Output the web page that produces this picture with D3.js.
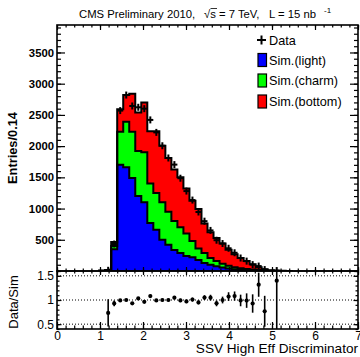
<!DOCTYPE html>
<html>
<head>
<meta charset="utf-8">
<script src="https://cdnjs.cloudflare.com/ajax/libs/d3/7.8.5/d3.min.js"></script>
<style>
  body { margin: 0; background: #fff; }
  svg { display: block; }
  text { font-family: "Liberation Sans", Arial, Helvetica, sans-serif; fill: #000; }
</style>
</head>
<body>
<svg id="chart" width="360" height="357"></svg>
<script>
// bins (low edges), width 0.14
var binLow = [0.98, 1.12, 1.26, 1.40, 1.54, 1.68, 1.82, 1.96, 2.10, 2.24, 2.38, 2.52, 2.66, 2.80, 2.94,
              3.08, 3.22, 3.36, 3.50, 3.64, 3.78, 3.92, 4.06, 4.20, 4.34, 4.48, 4.62, 4.76, 4.90, 5.04, 5.18, 5.32];
var binWidth = 0.14;

// simulation, stacked: light (blue), charm (green), bottom (red)
var simLight  = [3, 12, 350, 1700, 1660, 1490, 1200, 1100, 770, 660, 500, 420, 335, 290, 240,
                 220, 175, 130, 100, 75, 55, 40, 30, 22, 16, 10, 7, 4, 2, 1, 1, 0];
var simCharm  = [1, 2, 50, 530, 730, 740, 720, 800, 630, 590, 600, 530, 465, 410, 360,
                 260, 185, 160, 110, 85, 60, 45, 30, 23, 18, 14, 10, 6, 3, 1, 0, 1];
var simBottom = [1, 1, 65, 360, 428, 610, 620, 800, 840, 990, 906, 860, 825, 800, 720,
                 645, 635, 470, 410, 370, 325, 255, 210, 165, 126, 86, 43, 20, 9, 3, 3, 1];

var dataCounts = [0, 11, 432, 2569, 2818, 2643, 2622, 2600, 2420, 2220, 2006, 1810, 1704, 1486, 1280,
                  1136, 945, 798, 650, 493, 440, 364, 292, 208, 158, 102, 79, 23, 0, 7, 0, 0];
var ratioErr   = [0, 0.28, 0.06, 0.025, 0.025, 0.025, 0.025, 0.025, 0.03, 0.03, 0.03, 0.03, 0.035, 0.035, 0.035,
                  0.04, 0.04, 0.05, 0.06, 0.06, 0.07, 0.09, 0.095, 0.12, 0.15, 0.19, 0.25, 0.32, 0, 1.0, 0, 0];

var xTicks = [0, 1, 2, 3, 4, 5, 6, 7];
var yTicks = [500, 1000, 1500, 2000, 2500, 3000, 3500];
var rTicks = [0.5, 1, 1.5];

var svg = d3.select("#chart");

// pads
var padL = 57, padR = 358, padTop = 25, padMid = 271, padBot = 329;

var x = d3.scaleLinear().domain([0, 7]).range([padL, padR]);
var y = d3.scaleLinear().domain([0, 3940]).range([padMid, padTop]);
var yr = d3.scaleLinear().domain([0.4, 1.6]).range([padBot, padMid]);

// clip paths
var defs = svg.append("defs");
defs.append("clipPath").attr("id", "clipMain")
  .append("rect").attr("x", padL).attr("y", padTop).attr("width", padR - padL).attr("height", padMid - padTop);
defs.append("clipPath").attr("id", "clipRatio")
  .append("rect").attr("x", padL).attr("y", padMid).attr("width", padR - padL).attr("height", padBot - padMid);

// table for the stack
var rows = binLow.map(function(lo, i) {
  return { x: lo, light: simLight[i], charm: simCharm[i], bottom: simBottom[i] };
});
var lastHi = binLow[binLow.length - 1] + binWidth;
rows.push(Object.assign({}, rows[rows.length - 1], { x: lastHi }));

var keys = ["light", "charm", "bottom"];
var colors = { light: "#0000ff", charm: "#00ff00", bottom: "#ff0000" };
var series = d3.stack().keys(keys)(rows);

var gMain = svg.append("g").attr("clip-path", "url(#clipMain)");

var area = d3.area()
  .curve(d3.curveStepAfter)
  .x(function(d) { return x(d.data.x); })
  .y0(function(d) { return y(d[0]); })
  .y1(function(d) { return y(d[1]); });

gMain.selectAll("path.layer")
  .data(series)
  .enter().append("path")
  .attr("class", "layer")
  .attr("d", area)
  .attr("fill", function(s) { return colors[s.key]; });

// black outline for each cumulative top
var line = d3.line()
  .curve(d3.curveStepAfter)
  .x(function(p) { return x(p[0]); })
  .y(function(p) { return y(p[1]); });

series.forEach(function(s) {
  var pts = [[binLow[0], 0]];
  s.forEach(function(d) { pts.push([d.data.x, d[1]]); });
  pts.push([lastHi, 0]);
  gMain.append("path")
    .attr("d", line(pts))
    .attr("fill", "none")
    .attr("stroke", "#000")
    .attr("stroke-width", 2);
});

// data points in the upper pad
var dataPts = binLow.map(function(lo, i) {
  return { c: lo + binWidth / 2, n: dataCounts[i] };
}).filter(function(d) { return d.n > 0; });

var gData = gMain.append("g").attr("stroke", "#000").attr("stroke-width", 2);
dataPts.forEach(function(d) {
  var cy = y(d.n);
  var e = Math.max(y(d.n - Math.sqrt(d.n)) - cy, 3.5);
  gData.append("line")
    .attr("x1", x(d.c - binWidth / 2)).attr("x2", x(d.c + binWidth / 2))
    .attr("y1", cy).attr("y2", cy);
  gData.append("line")
    .attr("x1", x(d.c)).attr("x2", x(d.c))
    .attr("y1", cy - e).attr("y2", cy + e);
});

// ratio pad
var gRatio = svg.append("g").attr("clip-path", "url(#clipRatio)");
rTicks.forEach(function(v) {
  gRatio.append("line")
    .attr("x1", padL).attr("x2", padR)
    .attr("y1", yr(v)).attr("y2", yr(v))
    .attr("stroke", "#000").attr("stroke-width", 1)
    .attr("stroke-dasharray", "1,2");
});

binLow.forEach(function(lo, i) {
  var tot = simLight[i] + simCharm[i] + simBottom[i];
  if (dataCounts[i] <= 0 || tot <= 0) return;
  var r = dataCounts[i] / tot;
  var cx = x(lo + binWidth / 2);
  gRatio.append("line")
    .attr("x1", cx).attr("x2", cx)
    .attr("y1", yr(r + ratioErr[i])).attr("y2", yr(r - ratioErr[i]))
    .attr("stroke", "#000").attr("stroke-width", 1.6);
  gRatio.append("circle")
    .attr("cx", cx).attr("cy", yr(r)).attr("r", 2.1)
    .attr("fill", "#000");
});

// axes
function noDomain(g) { g.select(".domain").remove(); }
var minorX = d3.range(0, 7.001, 0.2);
var minorY = d3.range(0, 3901, 100);
var minorR = d3.range(0.4, 1.6001, 0.1);

// upper pad: left
svg.append("g").attr("transform", "translate(" + padL + ",0)")
  .call(d3.axisLeft(y).tickValues(yTicks).tickSize(-8).tickPadding(3).tickFormat(d3.format("d")))
  .call(noDomain)
  .call(function(g) {
    g.selectAll("text").attr("font-size", 11.3).attr("font-weight", "bold").attr("font-family", null);
  });
svg.append("g").attr("transform", "translate(" + padL + ",0)")
  .call(d3.axisLeft(y).tickValues(minorY).tickSize(-4).tickFormat(""))
  .call(noDomain);
// upper pad: right
svg.append("g").attr("transform", "translate(" + padR + ",0)")
  .call(d3.axisRight(y).tickValues(yTicks).tickSize(-8).tickFormat(""))
  .call(noDomain);
svg.append("g").attr("transform", "translate(" + padR + ",0)")
  .call(d3.axisRight(y).tickValues(minorY).tickSize(-4).tickFormat(""))
  .call(noDomain);
// upper pad: top
svg.append("g").attr("transform", "translate(0," + padTop + ")")
  .call(d3.axisTop(x).tickValues(xTicks).tickSize(-5).tickFormat(""))
  .call(noDomain);
svg.append("g").attr("transform", "translate(0," + padTop + ")")
  .call(d3.axisTop(x).tickValues(minorX).tickSize(-2.5).tickFormat(""))
  .call(noDomain);
// shared boundary: ticks up and down
[4, -4].forEach(function(s) {
  svg.append("g").attr("transform", "translate(0," + padMid + ")")
    .call(d3.axisBottom(x).tickValues(xTicks).tickSize(s).tickFormat(""))
    .call(noDomain);
});
[2.5, -2.5].forEach(function(s) {
  svg.append("g").attr("transform", "translate(0," + padMid + ")")
    .call(d3.axisBottom(x).tickValues(minorX).tickSize(s).tickFormat(""))
    .call(noDomain);
});
// ratio pad: bottom
svg.append("g").attr("transform", "translate(0," + padBot + ")")
  .call(d3.axisBottom(x).tickValues(xTicks).tickSize(-7).tickPadding(2.7).tickFormat(d3.format("d")))
  .call(noDomain)
  .call(function(g) { g.selectAll("text").attr("font-size", 12).attr("font-family", null); });
svg.append("g").attr("transform", "translate(0," + padBot + ")")
  .call(d3.axisBottom(x).tickValues(minorX).tickSize(-3.5).tickFormat(""))
  .call(noDomain);
// ratio pad: left / right
svg.append("g").attr("transform", "translate(" + padL + ",0)")
  .call(d3.axisLeft(yr).tickValues(rTicks).tickSize(-4.5).tickPadding(3).tickFormat(d3.format("")))
  .call(noDomain)
  .call(function(g) { g.selectAll("text").attr("font-size", 12).attr("font-family", null); });
svg.append("g").attr("transform", "translate(" + padL + ",0)")
  .call(d3.axisLeft(yr).tickValues(minorR).tickSize(-2.5).tickFormat(""))
  .call(noDomain);
svg.append("g").attr("transform", "translate(" + padR + ",0)")
  .call(d3.axisRight(yr).tickValues(rTicks).tickSize(-4.5).tickFormat(""))
  .call(noDomain);
svg.append("g").attr("transform", "translate(" + padR + ",0)")
  .call(d3.axisRight(yr).tickValues(minorR).tickSize(-2.5).tickFormat(""))
  .call(noDomain);

svg.selectAll(".tick line").attr("stroke", "#000").attr("stroke-width", 1.2);

// frames
svg.append("rect").attr("x", padL).attr("y", padTop).attr("width", padR - padL).attr("height", padMid - padTop)
  .attr("fill", "none").attr("stroke", "#000").attr("stroke-width", 1.6);
svg.append("rect").attr("x", padL).attr("y", padMid).attr("width", padR - padL).attr("height", padBot - padMid)
  .attr("fill", "none").attr("stroke", "#000").attr("stroke-width", 1.6);

// axis titles
svg.append("text")
  .attr("transform", "translate(17,148) rotate(-90)")
  .attr("text-anchor", "middle")
  .attr("font-size", 12.8)
  .attr("font-weight", "bold")
  .text("Entries/0.14");
svg.append("text")
  .attr("transform", "translate(18,302) rotate(-90)")
  .attr("text-anchor", "middle")
  .attr("font-size", 13)
  .text("Data/Sim");
svg.append("text")
  .attr("x", padR).attr("y", 353)
  .attr("text-anchor", "end")
  .attr("font-size", 13.6)
  .text("SSV High Eff Discriminator");

// header
var hdr = svg.append("g").attr("font-size", 11.3);
hdr.append("text").attr("x", 79).attr("y", 18).text("CMS Preliminary 2010,");
hdr.append("text").attr("x", 204).attr("y", 18).text("\u221As = 7 TeV,");
hdr.append("line").attr("x1", 210.5).attr("x2", 217).attr("y1", 8.5).attr("y2", 8.5)
  .attr("stroke", "#000").attr("stroke-width", 0.8);
hdr.append("text").attr("x", 269).attr("y", 18).text("L = 15 nb");
hdr.append("text").attr("x", 324).attr("y", 13).attr("font-size", 8).text("-1");

// legend
var lg = svg.append("g");
lg.append("line").attr("x1", 257).attr("x2", 266).attr("y1", 40).attr("y2", 40)
  .attr("stroke", "#000").attr("stroke-width", 2);
lg.append("line").attr("x1", 261.5).attr("x2", 261.5).attr("y1", 35.5).attr("y2", 44.5)
  .attr("stroke", "#000").attr("stroke-width", 2);
lg.append("text").attr("x", 269).attr("y", 44.5).attr("font-size", 12.7).text("Data");

var legItems = [
  { key: "light", label: "Sim.(light)", y: 60 },
  { key: "charm", label: "Sim.(charm)", y: 80.5 },
  { key: "bottom", label: "Sim.(bottom)", y: 101.5 }
];
legItems.forEach(function(it) {
  lg.append("rect").attr("x", 258).attr("y", it.y - 6.5).attr("width", 8.5).attr("height", 13)
    .attr("fill", colors[it.key]).attr("stroke", "#000").attr("stroke-width", 1.2);
  lg.append("text").attr("x", 269).attr("y", it.y + 4.5).attr("font-size", 12.7).text(it.label);
});
</script>
</body>
</html>
